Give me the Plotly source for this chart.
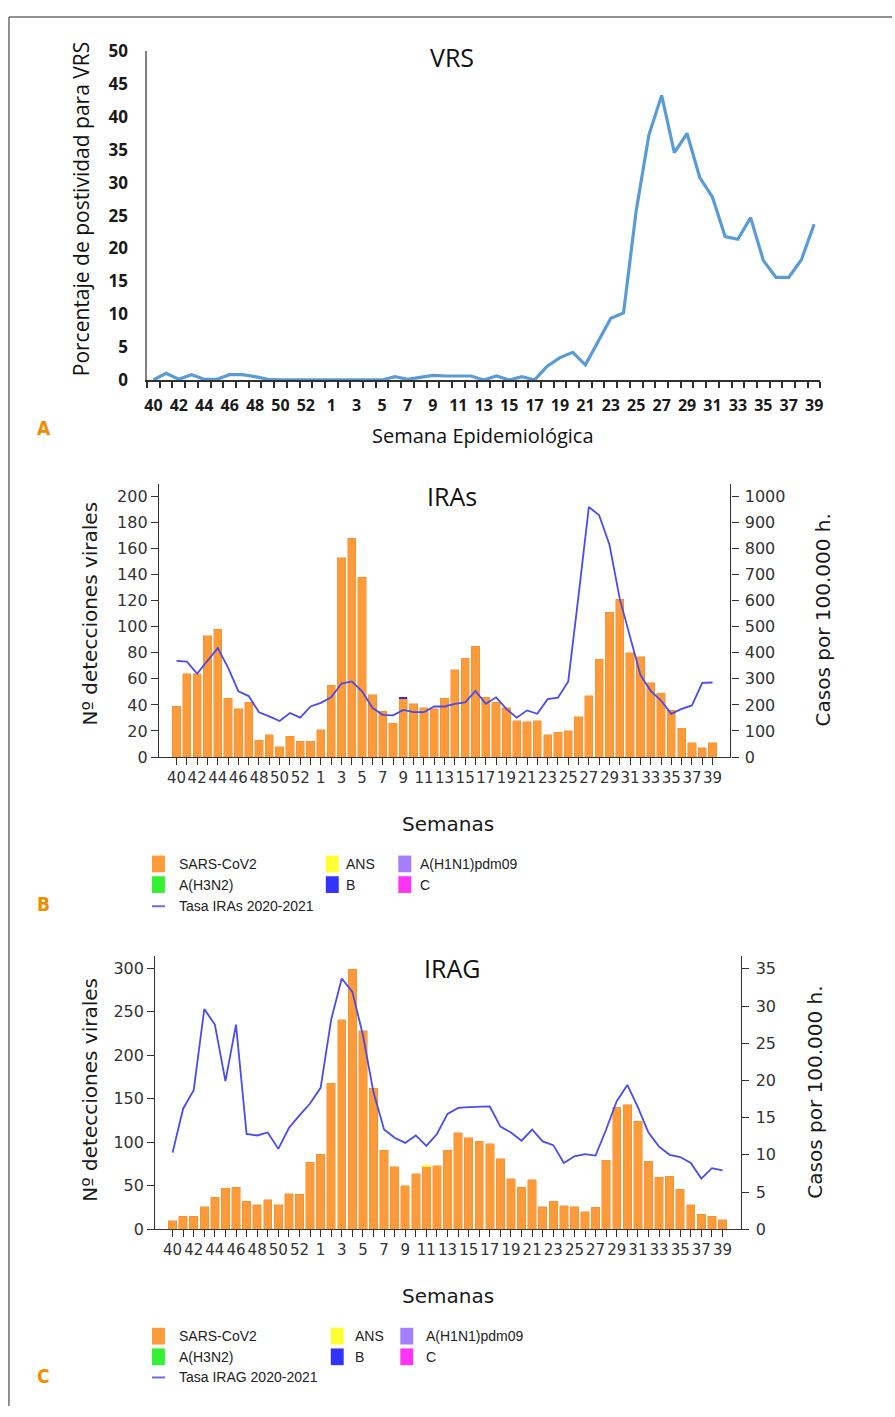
import plotly.graph_objects as go

W, H = 895, 1417

def px(x):
    return x / W

def py(y):
    return 1 - y / H

# ---------------- data ----------------
weeks = [40, 41, 42, 43, 44, 45, 46, 47, 48, 49, 50, 51, 52, 53,
         1, 2, 3, 4, 5, 6, 7, 8, 9, 10, 11, 12, 13, 14, 15, 16, 17, 18, 19, 20,
         21, 22, 23, 24, 25, 26, 27, 28, 29, 30, 31, 32, 33, 34, 35, 36, 37, 38, 39]

vrs_pct = [0, 1.0, 0.1, 0.8, 0.1, 0.1, 0.8, 0.8, 0.5, 0.1, 0, 0, 0, 0,
           0, 0, 0, 0, 0, 0.5, 0.1, 0.4, 0.7, 0.6, 0.6, 0.6, 0, 0.6, 0, 0.5, 0, 2.1, 3.4, 4.2,
           2.3, 5.8, 9.4, 10.2, 25.8, 37.3, 43.3, 34.6, 37.5, 30.8, 27.8, 21.8, 21.4, 24.7,
           18.2, 15.6, 15.6, 18.3, 23.7]

iras_sars = [39, 64, 64, 93, 98, 45, 37, 42, 13, 17, 8, 16, 12, 12,
             21, 55, 153, 168, 138, 48, 35, 26, 45, 41, 38, 37, 45, 67, 76, 85, 46, 42, 38, 28,
             27, 28, 17, 19, 20, 31, 47, 75, 111, 121, 80, 77, 57, 49, 36, 22, 11, 7, 11]
iras_b = [0, 0, 0, 0, 0, 0, 0, 0, 0, 0, 0, 0, 0, 0,
          0, 0, 0, 0, 0, 0, 0, 0, 1, 0, 0, 0, 0, 0, 0, 0, 0, 0, 0, 0,
          0, 0, 0, 0, 0, 0, 0, 0, 0, 0, 0, 0, 0, 0, 0, 0, 0, 0, 0]
iras_rate = [369, 366, 320, 368, 418, 343, 252, 234, 172, 156, 138, 169, 151, 194,
             208, 229, 282, 290, 252, 189, 162, 160, 181, 172, 172, 194, 194, 204, 210, 254, 204, 229, 185, 151,
             179, 166, 222, 228, 290, 620, 960, 928, 815, 607, 456, 315, 254, 217, 166, 185, 198, 285, 286]

irag_sars = [10, 15, 15, 26, 37, 47, 48, 32, 28, 34, 28, 41, 40, 77,
             86, 168, 241, 299, 228, 162, 91, 72, 50, 64, 72, 73, 91, 111, 105, 101, 98, 81, 58, 48,
             57, 26, 32, 27, 26, 20, 25, 79, 140, 143, 124, 78, 60, 61, 46, 28, 17, 15, 11]
irag_ans = [0, 0, 0, 0, 0, 0, 0, 0, 0, 0, 0, 0, 0, 0,
            0, 0, 0, 0, 0, 0, 0, 0, 0, 0, 2, 0, 0, 0, 0, 0, 0, 0, 0, 0,
            0, 0, 0, 0, 0, 0, 0, 0, 0, 0, 0, 0, 0, 0, 0, 0, 0, 0, 0]
irag_rate = [10.3, 16.2, 18.7, 29.6, 27.5, 19.9, 27.5, 12.8, 12.6, 13.0, 10.8, 13.6, 15.3, 16.9,
             19.0, 28.2, 33.7, 31.9, 26.1, 18.4, 13.4, 12.3, 11.6, 12.6, 11.2, 12.8, 15.5, 16.3, 16.4, 16.4,
             16.5, 13.8, 13.0, 11.9, 13.4, 11.8, 11.3, 8.9, 9.8, 10.1, 9.9, 13.4, 17.2, 19.4, 16.4, 13.0,
             11.1, 10.0, 9.7, 8.9, 6.8, 8.2, 7.9]

legend_labels = ["SARS-CoV2", "ANS", "A(H1N1)pdm09", "A(H3N2)", "B", "C"]

# ---------------- styles ----------------
ORANGE = "#FD9A3A"
ORANGE_EDGE = "#EE8A2C"
YELLOW = "#FFFF33"
PURPLE = "#A57DFF"
GREEN = "#33F233"
BLUE = "#3333FF"
MAGENTA = "#FF33F5"
RATE = "#4B4BEB"
VRS_BLUE = "#5B9BD5"
legend_colors = [ORANGE, YELLOW, PURPLE, GREEN, BLUE, MAGENTA]

idx = list(range(len(weeks)))
even_vals = [i for i in idx if i % 2 == 0]
even_text = [str(weeks[i]) for i in even_vals]
alt_text = [str(w) if i % 2 == 0 else "" for i, w in enumerate(weeks)]

SANS = "DejaVu Sans"
CAL = "Open Sans"

fig = go.Figure()

# Panel A
fig.add_trace(go.Scatter(x=idx, y=vrs_pct, mode="lines", line=dict(color=VRS_BLUE, width=3.2),
                         xaxis="x", yaxis="y", showlegend=False, name="VRS"))

# Panel B
fig.add_trace(go.Bar(x=idx, y=iras_sars, marker=dict(color=ORANGE, line=dict(color=ORANGE_EDGE, width=0.5)),
                     xaxis="x2", yaxis="y2", showlegend=False, name="SARS-CoV2"))
fig.add_trace(go.Bar(x=idx, y=iras_b, marker=dict(color="#3030C8", line=dict(width=0)),
                     xaxis="x2", yaxis="y2", showlegend=False, name="B"))
fig.add_trace(go.Scatter(x=idx, y=iras_rate, mode="lines", line=dict(color=RATE, width=1.8),
                         xaxis="x2", yaxis="y3", showlegend=False, name="Tasa IRAs 2020-2021"))

# Panel C
fig.add_trace(go.Bar(x=idx, y=irag_sars, marker=dict(color=ORANGE, line=dict(color=ORANGE_EDGE, width=0.5)),
                     xaxis="x3", yaxis="y4", showlegend=False, name="SARS-CoV2"))
fig.add_trace(go.Bar(x=idx, y=irag_ans, marker=dict(color=YELLOW, line=dict(width=0)),
                     xaxis="x3", yaxis="y4", showlegend=False, name="ANS"))
fig.add_trace(go.Scatter(x=idx, y=irag_rate, mode="lines", line=dict(color=RATE, width=1.8),
                         xaxis="x3", yaxis="y5", showlegend=False, name="Tasa IRAG 2020-2021"))

axc = "#333333"
tickfont_b = dict(family=SANS, size=15, color=axc)
ytickfont_b = dict(family=SANS, size=16, color=axc)

fig.update_layout(
    width=W, height=H, autosize=False,
    margin=dict(l=0, r=0, t=0, b=0, pad=0),
    paper_bgcolor="white", plot_bgcolor="white",
    barmode="stack", bargap=0.2,
    showlegend=False,
    # ---- A ----
    xaxis=dict(domain=[px(145), px(823)], anchor="y", range=[-0.5, 52.5],
               tickmode="array", tickvals=even_vals, ticktext=even_text, ticks="",
               tickfont=dict(family=CAL, size=16, color="#1a1a1a", weight="bold"),
               ticklabelstandoff=10,
               minor=dict(tickmode="array", tickvals=[i - 0.5 for i in range(len(weeks) + 1)],
                          ticks="outside", ticklen=6, tickwidth=1.5, tickcolor="#303030", showgrid=False),
               showline=True, linecolor="#303030", linewidth=2.2, showgrid=False, zeroline=False),
    yaxis=dict(domain=[py(374), py(40)], anchor="x", range=[0, 50], tickmode="linear", tick0=0, dtick=5,
               ticks="", tickfont=dict(family=CAL, size=17, color="#1a1a1a", weight="bold"),
               ticklabelstandoff=14,
               showline=True, linecolor="#808080", linewidth=1.5, showgrid=False, zeroline=False),
    # ---- B ----
    xaxis2=dict(domain=[px(157), px(732.3)], anchor="y2", range=[-1.706, 53.73],
                tickmode="array", tickvals=idx, ticktext=alt_text, ticks="outside", ticklen=7,
                tickcolor=axc, tickwidth=1.2, tickfont=tickfont_b, tickangle=0,
                showline=True, linecolor=axc, linewidth=1.3, showgrid=False, zeroline=False),
    yaxis2=dict(domain=[py(757.3), py(479.3)], anchor="x2", range=[0, 210],
                tickmode="array", tickvals=list(range(0, 201, 20)), ticks="outside", ticklen=7,
                tickcolor=axc, tickwidth=1.2, tickfont=ytickfont_b,
                showline=True, linecolor=axc, linewidth=1.3, showgrid=False, zeroline=False),
    yaxis3=dict(overlaying="y2", anchor="x2", side="right", range=[0, 1050],
                tickmode="array", tickvals=list(range(0, 1001, 100)), ticks="outside", ticklen=7,
                tickcolor=axc, tickwidth=1.2, tickfont=ytickfont_b, ticklabelstandoff=3,
                showline=True, linecolor=axc, linewidth=1.3, showgrid=False, zeroline=False),
    # ---- C ----
    xaxis3=dict(domain=[px(153.3), px(743.3)], anchor="y4", range=[-1.634, 53.78],
                tickmode="array", tickvals=idx, ticktext=alt_text, ticks="outside", ticklen=7,
                tickcolor=axc, tickwidth=1.2, tickfont=tickfont_b, tickangle=0,
                showline=True, linecolor=axc, linewidth=1.3, showgrid=False, zeroline=False),
    yaxis4=dict(domain=[py(1237.3), py(959.3)], anchor="x3", range=[0, 314.4],
                tickmode="array", tickvals=list(range(0, 301, 50)), ticks="outside", ticklen=7,
                tickcolor=axc, tickwidth=1.2, tickfont=ytickfont_b,
                showline=True, linecolor=axc, linewidth=1.3, showgrid=False, zeroline=False),
    yaxis5=dict(overlaying="y4", anchor="x3", side="right", range=[0, 36.76],
                tickmode="array", tickvals=list(range(0, 36, 5)), ticks="outside", ticklen=7,
                tickcolor=axc, tickwidth=1.2, tickfont=ytickfont_b, ticklabelstandoff=3,
                showline=True, linecolor=axc, linewidth=1.3, showgrid=False, zeroline=False),
)

annotations = []
shapes = []

def text(x, y, s, size, family, color="#111111", angle=0, xanchor="center", weight="normal"):
    annotations.append(dict(x=px(x), y=py(y), xref="paper", yref="paper", text=s, showarrow=False,
                            xanchor=xanchor, yanchor="middle", textangle=angle,
                            font=dict(family=family, size=size, color=color, weight=weight)))

# Panel A texts
text(452, 46, "VRS", 25, CAL)
text(78, 200, "Porcentaje de postividad para VRS", 21, CAL, angle=-90)
text(483, 430, "Semana Epidemiológica", 20, CAL)

# Panel B texts
text(452, 492, "IRAs", 25, CAL)
text(88, 611, "Nº detecciones virales", 20, SANS, color="#1a1a1a", angle=-90)
text(826, 618, "Casos por 100.000 h.", 20, SANS, color="#1a1a1a", angle=-90)
text(448, 825, "Semanas", 20, SANS, color="#1a1a1a")

# Panel C texts
text(452, 972, "IRAG", 25, CAL)
text(88, 1095, "Nº detecciones virales", 20, SANS, color="#1a1a1a", angle=-90)
text(818, 1098, "Casos por 100.000 h.", 20, SANS, color="#1a1a1a", angle=-90)
text(448, 1305, "Semanas", 20, SANS, color="#1a1a1a")

# Panel letters
LETTER = "DejaVu Sans Condensed, DejaVu Sans"
text(41, 423, "A", 19, LETTER, color="#F08C00", weight="bold")
text(41, 907, "B", 19, LETTER, color="#F08C00", weight="bold")
text(41, 1387, "C", 19, LETTER, color="#F08C00", weight="bold")

# Manual legends
LEGF = "Liberation Sans"
LEGS = 14

def legend(rows_y, sw_x, tx_x, rate_label):
    k = 0
    for r in range(2):
        for c in range(3):
            y = rows_y[r]
            shapes.append(dict(type="rect", xref="paper", yref="paper",
                               x0=px(sw_x[c]), x1=px(sw_x[c] + 13), y0=py(y + 8.5), y1=py(y - 8.5),
                               fillcolor=legend_colors[k], line=dict(width=0)))
            text(tx_x[c], y, legend_labels[k], LEGS, LEGF, color="#222222", xanchor="left")
            k += 1
    y = rows_y[2]
    shapes.append(dict(type="line", xref="paper", yref="paper",
                       x0=px(sw_x[0]), x1=px(sw_x[0] + 13), y0=py(y), y1=py(y),
                       line=dict(color="#6A6AE8", width=2)))
    text(tx_x[0], y, rate_label, LEGS, LEGF, color="#222222", xanchor="left")

legend([866, 887, 909], [150, 325, 398], [175, 343, 418], "Tasa IRAs 2020-2021")
legend([1346, 1367, 1388], [150, 330, 400], [175, 352, 424], "Tasa IRAG 2020-2021")

# outer frame (left and top edges)
shapes.append(dict(type="line", xref="paper", yref="paper", x0=px(6), x1=px(6), y0=0, y1=py(5),
                   line=dict(color="#6e6e6e", width=1.5)))
shapes.append(dict(type="line", xref="paper", yref="paper", x0=px(6), x1=1, y0=py(5), y1=py(5),
                   line=dict(color="#6e6e6e", width=1.5)))

fig.update_layout(annotations=annotations, shapes=shapes)

post = ("document.documentElement.style.margin='0';document.body.style.margin='0';"
        "document.body.style.padding='0';document.body.style.overflow='hidden';"
        "document.documentElement.style.overflow='hidden';")

fig.write_html("out.html", config={"displayModeBar": False, "responsive": False}, post_script=post)
